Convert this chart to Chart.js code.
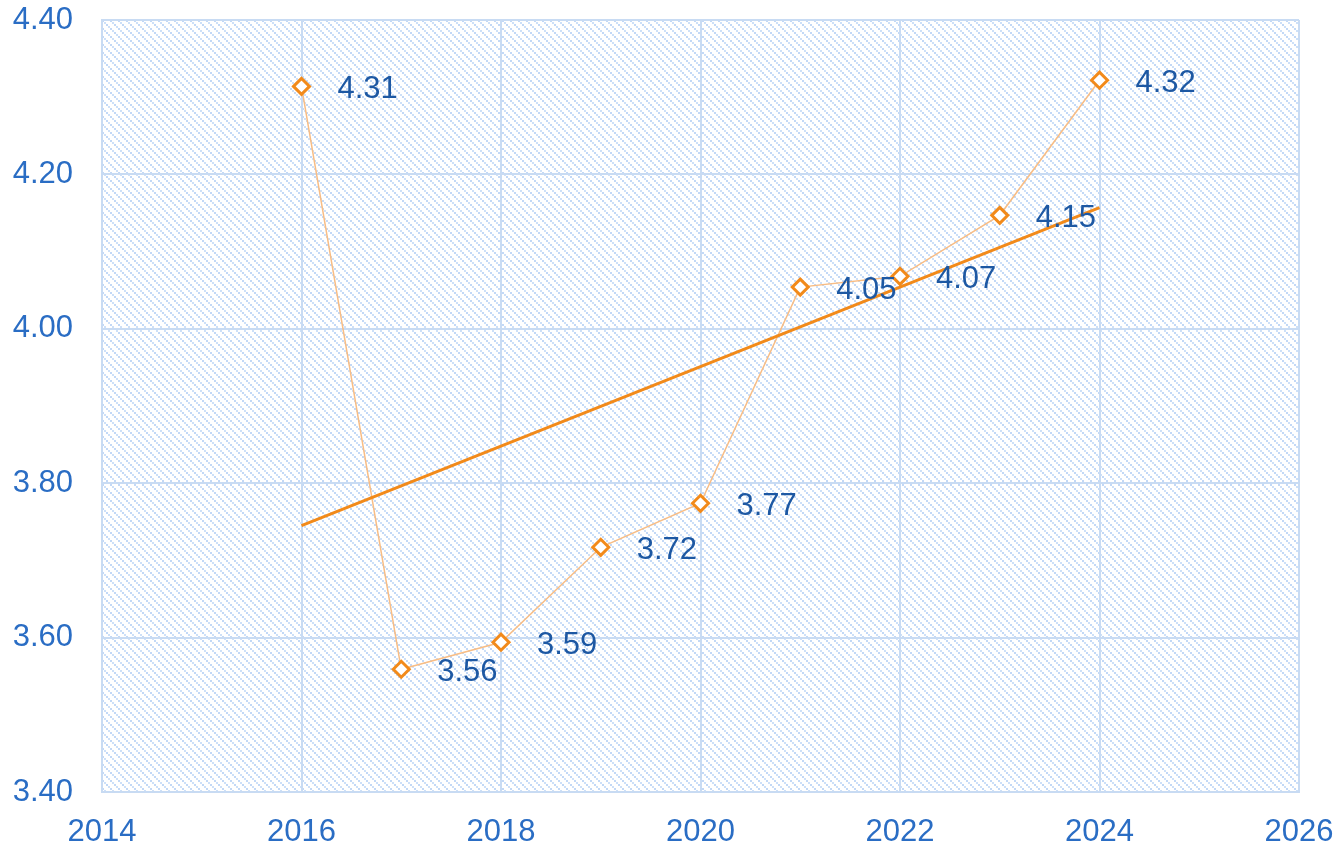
<!DOCTYPE html>
<html>
<head>
<meta charset="utf-8">
<script src="https://cdn.jsdelivr.net/npm/chart.js@4.4.1/dist/chart.umd.min.js"></script>
<style>
html,body{margin:0;padding:0;background:#fff;}
#wrap{width:1340px;height:846px;position:relative;}
</style>
</head>
<body>
<div id="wrap"><canvas id="c" width="1340" height="846"></canvas></div>
<script>
const years = [2016, 2017, 2018, 2019, 2020, 2021, 2022, 2023, 2024];
const values = [4.314, 3.559, 3.594, 3.717, 3.774, 4.054, 4.068, 4.147, 4.322];
const trendYears = [2016, 2024];
const trendValues = [3.745, 4.157];
const xTicks = [2014, 2016, 2018, 2020, 2022, 2024, 2026];
const yTicks = [3.40, 3.60, 3.80, 4.00, 4.20, 4.40];

function makePattern(ctx){
  const t = document.createElement('canvas');
  t.width = 8; t.height = 8;
  const g = t.getContext('2d');
  g.fillStyle = '#ffffff'; g.fillRect(0,0,8,8);
  for (let k=0;k<4;k++){
    g.fillStyle = (k%2===0) ? '#c2d8f6' : '#cde0f8';
    g.fillRect(2*k,2*k,2,2);
  }
  return ctx.createPattern(t,'repeat');
}

const bgPlugin = {
  id:'bg',
  beforeDraw(chart){
    const {ctx, chartArea:a} = chart;
    ctx.save();
    ctx.translate(a.left, a.top);
    ctx.fillStyle = makePattern(ctx);
    ctx.fillRect(0, 0, a.right-a.left, a.bottom-a.top);
    ctx.restore();
  }
};

const labelPlugin = {
  id:'labels',
  afterDatasetsDraw(chart){
    const meta = chart.getDatasetMeta(0);
    const ctx = chart.ctx;
    ctx.save();
    ctx.font = '31px "Liberation Sans", Arial, sans-serif';
    ctx.fillStyle = '#1d58a3';
    ctx.textAlign = 'left';
    ctx.textBaseline = 'middle';
    meta.data.forEach((pt,i)=>{
      ctx.fillText(values[i].toFixed(2), pt.x + 36, pt.y + 3);
    });
    ctx.restore();
  }
};

new Chart(document.getElementById('c'), {
  type:'line',
  data:{
    datasets:[
      {
        data: years.map((y,i)=>({x:y, y:values[i]})),
        borderColor:'#f8bd85',
        borderWidth:1.5,
        pointStyle:'rectRot',
        pointRadius:8,
        pointBackgroundColor:'#ffffff',
        pointBorderColor:'#f28a1a',
        pointBorderWidth:3,
        tension:0,
        order:2
      },
      {
        data: trendYears.map((y,i)=>({x:y, y:trendValues[i]})),
        borderColor:'#f28a1a',
        borderWidth:3,
        pointRadius:0,
        tension:0,
        order:1
      }
    ]
  },
  options:{
    responsive:false,
    animation:false,
    devicePixelRatio:1,
    layout:{autoPadding:false, padding:{left:0,right:41,top:20,bottom:0}},
    plugins:{legend:{display:false}, tooltip:{enabled:false}},
    scales:{
      x:{
        type:'linear',
        min:xTicks[0], max:xTicks[xTicks.length-1],
        afterBuildTicks(s){ s.ticks = xTicks.map(v=>({value:v})); },
        afterFit(s){ s.height = 54; s.paddingLeft = 0; s.paddingRight = 0; s.paddingTop = 0; s.paddingBottom = 0; },
        grid:{color:'#c8dbf3', lineWidth:2, drawTicks:false},
        border:{color:'#c8dbf3', width:2},
        ticks:{
          color:'#2a6dc4',
          font:{size:31, family:'"Liberation Sans", Arial, sans-serif'},
          padding:22,
          maxRotation:0,
          callback:v=>String(v)
        }
      },
      y:{
        min:yTicks[0], max:yTicks[yTicks.length-1],
        afterBuildTicks(s){ s.ticks = yTicks.map(v=>({value:v})); },
        afterFit(s){ s.width = 102; s.paddingLeft = 0; s.paddingRight = 0; s.paddingTop = 0; s.paddingBottom = 0; },
        grid:{color:'#c8dbf3', lineWidth:2, drawTicks:false},
        border:{color:'#c8dbf3', width:2},
        ticks:{
          color:'#2a6dc4',
          font:{size:31, family:'"Liberation Sans", Arial, sans-serif'},
          padding:29,
          callback:v=>Number(v).toFixed(2)
        }
      }
    }
  },
  plugins:[bgPlugin, labelPlugin]
});
</script>
</body>
</html>
